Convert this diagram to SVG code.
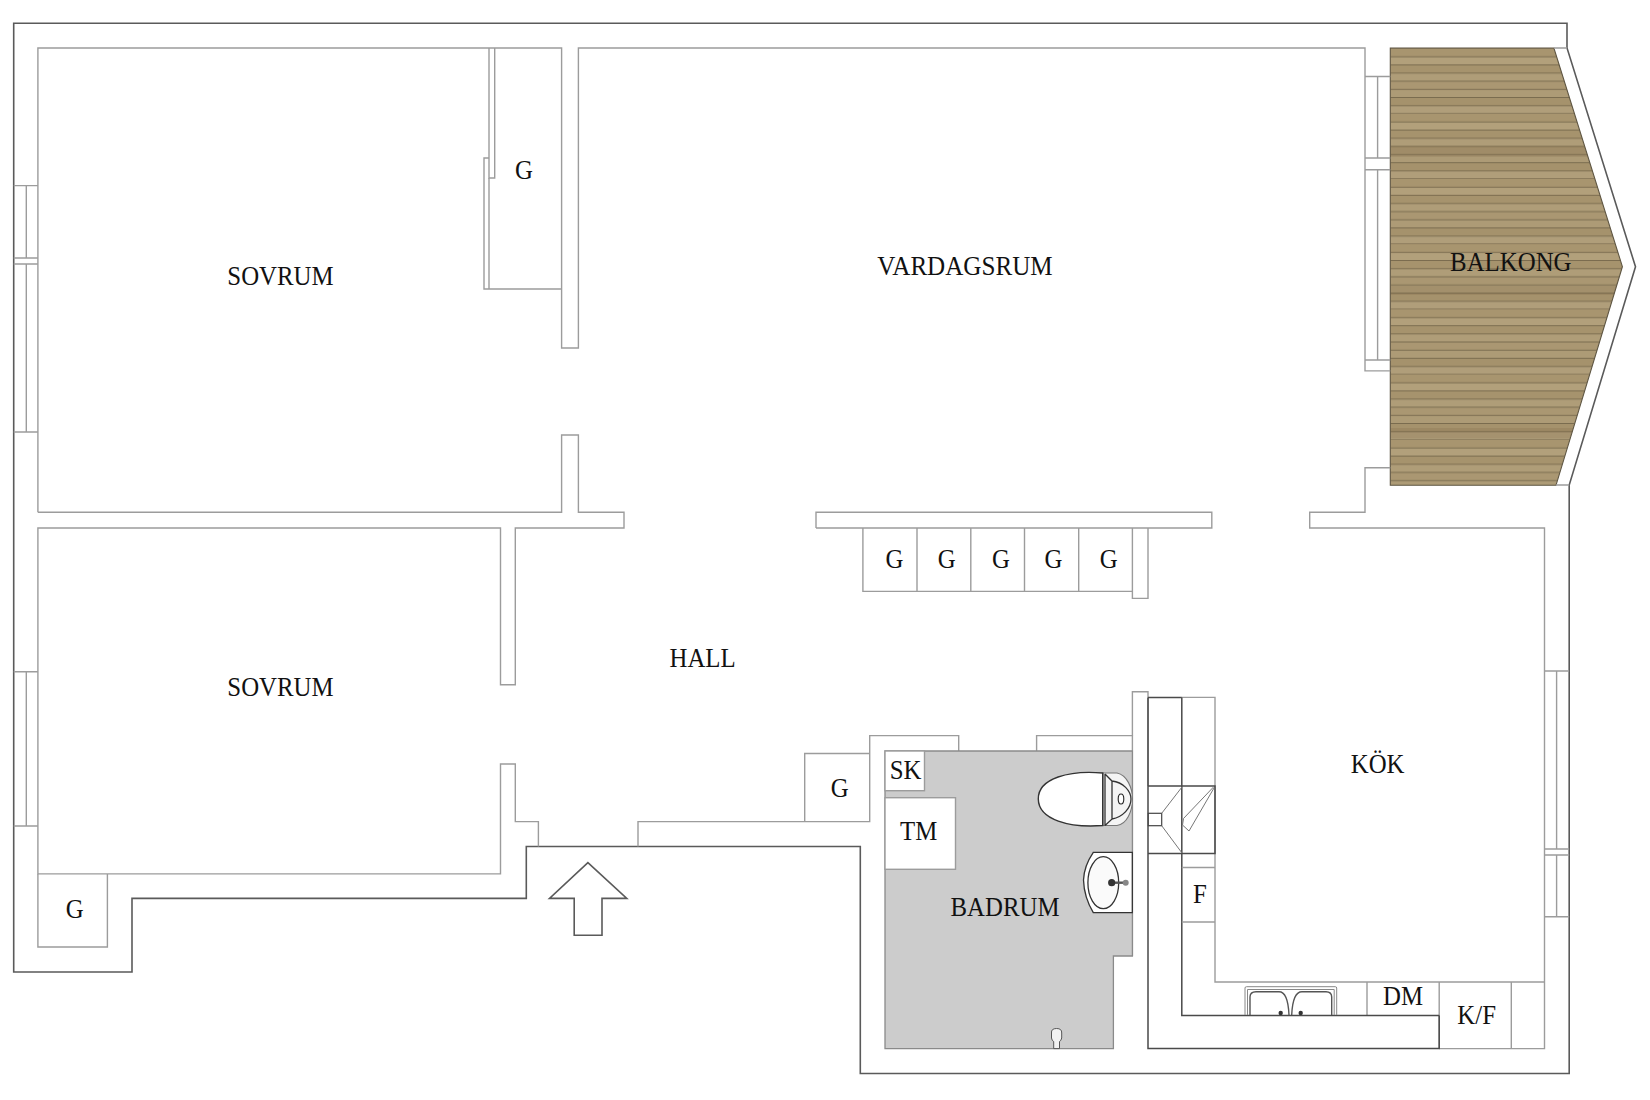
<svg xmlns="http://www.w3.org/2000/svg" width="1650" height="1100" viewBox="0 0 1650 1100">
<style>
.o{fill:none;stroke:#5a5a5a;stroke-width:1.6}
.w{fill:none;stroke:#9c9c9c;stroke-width:1.4}
.f{fill:#fff;stroke:#9c9c9c;stroke-width:1.4}
.d{fill:none;stroke:#4a4a4a;stroke-width:1.5}
.t{font-family:"Liberation Serif","Times New Roman",serif;font-size:27px;fill:#111;text-anchor:middle}
</style>
<defs>
<pattern id="wood" patternUnits="userSpaceOnUse" x="0" y="48.6" width="400" height="65.2">
<rect width="400" height="65.2" fill="#ab9973"/>
<rect y="0" width="400" height="8.2" fill="#a8956f"/>
<rect y="8.2" width="400" height="8.1" fill="#b2a07b"/>
<rect y="16.3" width="400" height="8.2" fill="#a6936d"/>
<rect y="24.5" width="400" height="8.1" fill="#af9d78"/>
<rect y="32.6" width="400" height="8.2" fill="#aa9772"/>
<rect y="40.8" width="400" height="8.1" fill="#ad9b76"/>
<rect y="48.9" width="400" height="8.2" fill="#a5926c"/>
<rect y="57.1" width="400" height="8.1" fill="#b09e7a"/>
<path d="M0 8.2H400M0 16.3H400M0 24.5H400M0 32.6H400M0 40.8H400M0 48.9H400M0 57.1H400M0 65H400" stroke="#76674b" stroke-width=".9"/>
</pattern>
<clipPath id="balkong-yta"><polygon points="1390.3,48 1553.9,48 1622.4,266.7 1556,485.3 1390.3,485.3"/></clipPath>
</defs>
<rect width="1650" height="1100" fill="#fff"/>

<g id="balkong">
<polygon points="1390.3,48 1553.9,48 1622.4,266.7 1556,485.3 1390.3,485.3" fill="url(#wood)"/>
<g clip-path="url(#balkong-yta)" fill="#6e5a35" fill-opacity=".16">
<rect x="1390" y="146" width="240" height="11"/>
<rect x="1390" y="286" width="240" height="9"/>
<rect x="1390" y="428" width="240" height="10"/>
</g>
<polygon points="1390.3,48 1553.9,48 1622.4,266.7 1556,485.3 1390.3,485.3" fill="none" stroke="#5e5542" stroke-width="1.1"/>
<text class="t" transform="translate(1510.8 270.5) scale(.92 1)">BALKONG</text>
</g>

<g id="walls">
<path class="o" d="M13.7,23.2H1567V48L1635.5,266.7L1569.2,485V1073.5H860.3V846.5H526.3V898.4H132V972H13.7Z"/>
<path class="w" d="M37.9,512.3V48H561.6V348H578.4V48H1365V370.9H1390.3"/>
<path class="w" d="M37.9,512.3H561.6V435H578.4V512.3H624V528H515.3V684.7H500.5V528H37.9V873.9H500.5V764H515.3V821.6H538.4V846.5"/>
<path class="w" d="M1390.3,467.7H1365V512.3H1309.7V528H1544.5V1048.6H1439.2"/>
<path class="w" d="M816,528V512.3H1211.8V528H816"/>
<path class="w" d="M638,846.5V821.6H869.7V735.6H958.7V751M1036.6,751V735.6H1132.4V691.8H1148V697.4"/>
<path class="w" d="M1553.9,48H1567M1556,485H1569.2"/>
<path class="w" d="M1132.4,528V598.4H1148V528"/>
<path class="w" d="M1132.4,735.6V956M1148,697.4V786"/>
</g>

<g id="windows">
<path class="w" d="M13.7,185.6H37.9M13.7,258H37.9M13.7,264H37.9M13.7,432H37.9M26.3,185.6V258M26.3,264V432"/>
<path class="w" d="M13.7,671.8H37.9M13.7,826H37.9M26.3,671.8V826"/>
<path class="w" d="M1365,76.5H1390.3M1365,158H1390.3M1365,169.8H1390.3M1365,360H1390.3M1377.6,76.5V158M1377.6,169.8V360"/>
<path class="w" d="M1544.5,671H1569.2M1544.5,849H1569.2M1544.5,855H1569.2M1544.5,916.7H1569.2M1556.6,671V849M1556.6,855V916.7"/>
</g>

<g id="arrow">
<polygon class="o" points="587.9,862.6 626.8,898.4 602,898.4 602,935.3 574.2,935.3 574.2,898.4 549.5,898.4" fill="#fff"/>
</g>

<g id="sovrum-1">
<text class="t" transform="translate(280.5 285) scale(.92 1)">SOVRUM</text>
</g>
<g id="garderob-1">
<path class="w" d="M489,48V178H494.7V48"/>
<path class="w" d="M489,158H484V289H561.6M489,178V289"/>
<text class="t" transform="translate(524 179.3) scale(.92 1)">G</text>
</g>
<g id="sovrum-2">
<text class="t" transform="translate(280.5 696.3) scale(.92 1)">SOVRUM</text>
</g>
<g id="garderob-2">
<path class="w" d="M37.9,873.9V947H107.4V873.9"/>
<text class="t" transform="translate(74.7 917.7) scale(.92 1)">G</text>
</g>
<g id="vardagsrum">
<text class="t" transform="translate(965 274.7) scale(.93 1)">VARDAGSRUM</text>
</g>
<g id="hall">
<text class="t" transform="translate(702.6 666.8) scale(.92 1)">HALL</text>
</g>
<g id="garderober">
<path class="w" d="M862.9,528V591.4H1132.4M917,528V591.4M970.8,528V591.4M1024.5,528V591.4M1078.7,528V591.4"/>
<text class="t" transform="translate(894.5 568) scale(.92 1)">G</text>
<text class="t" transform="translate(946.6 568) scale(.92 1)">G</text>
<text class="t" transform="translate(1001 568) scale(.92 1)">G</text>
<text class="t" transform="translate(1053.4 568) scale(.92 1)">G</text>
<text class="t" transform="translate(1108.7 568) scale(.92 1)">G</text>
</g>
<g id="garderob-3">
<path class="w" d="M869.7,753.5H804.7V821.6"/>
<text class="t" transform="translate(839.7 797.4) scale(.92 1)">G</text>
</g>

<g id="badrum">
<polygon points="885,751 1132.4,751 1132.4,956 1113.4,956 1113.4,1048.6 885,1048.6" fill="#cccccc" stroke="#8a8a8a" stroke-width="1.3"/>
<rect class="f" x="885" y="751" width="39.5" height="39.7"/>
<text class="t" transform="translate(905.5 779) scale(.92 1)">SK</text>
<rect class="f" x="885" y="797.7" width="70.5" height="71.6"/>
<text class="t" transform="translate(918.7 840) scale(.92 1)">TM</text>
<text class="t" transform="translate(1005 916.3) scale(.92 1)">BADRUM</text>
<g id="toalett">
<path d="M1103,773H1117C1127,775 1132.5,788 1132.5,799C1132.5,811 1127,824 1117,825.5H1103Z" fill="#f4f4f4" stroke="#777" stroke-width="1.1"/>
<path d="M1102.7,773C1070,770 1038,778 1038.3,799C1038.5,820 1070,828 1102.7,825.5Z" fill="#fff" stroke="#333" stroke-width="1.4"/>
<path d="M1105,774L1112,781C1123,782 1131,791 1131,799C1131,808 1123,817 1112,819L1105,825.5M1112,781V819M1105,774V825.5" fill="none" stroke="#333" stroke-width="1.3"/>
<ellipse cx="1121" cy="799" rx="2.8" ry="5" fill="#fff" stroke="#222" stroke-width="1.1"/>
</g>
<g id="handfat">
<path d="M1132.3,852.3H1093.3Q1084,866 1083.5,880Q1084,897 1093.3,912.7H1132.3Z" fill="#fff" stroke="#333" stroke-width="1.3"/>
<ellipse cx="1103.3" cy="882.7" rx="15.4" ry="26" fill="#fafafa" stroke="#333" stroke-width="1.3"/>
<path d="M1111.7,882.7H1125.7" stroke="#555" stroke-width="2.4"/>
<circle cx="1111.7" cy="882.7" r="3.6" fill="#333"/>
<circle cx="1125.7" cy="882.7" r="3" fill="#888"/>
</g>
<g id="golvbrunn">
<path d="M1051.5,1033Q1051,1028.5 1056.6,1028.5Q1062,1028.5 1061.7,1033V1038Q1061,1041 1059.5,1041.5V1048.6H1053.7V1041.5Q1052,1041 1051.5,1038Z" fill="#f2f2f2" stroke="#555" stroke-width="1"/>
</g>
</g>

<g id="kok">
<path class="w" d="M1181.8,697.4H1215V982H1544.5M1367,982V1015.6M1439.2,982V1048.6M1511.3,982V1048.6"/>
<path class="d" d="M1148,697.4H1181.8M1148,697.4V1048.6H1439.2V1015.6M1181.8,697.4V1015.6H1439.2"/>
<path class="w" d="M1181.8,867.5H1215M1181.8,922H1215"/>
<g id="skorsten">
<path class="d" d="M1148,786H1215V853.5H1148"/>
<rect x="1148.3" y="813.3" width="13.4" height="12.4" fill="#fff" stroke="#444" stroke-width="1.2"/>
<path d="M1182,787L1161.7,813.3M1161.7,825.7L1182,853M1213.5,787L1183.5,818.5L1182.5,825L1189,831L1214,788" fill="none" stroke="#777" stroke-width="1"/>
</g>
<g id="diskbank">
<path d="M1245,1015V988Q1245,986.7 1246.5,986.7H1335.2Q1336.7,986.7 1336.7,988V1015M1247.5,1015V989.5H1334.2V1015" fill="none" stroke="#888" stroke-width="1"/>
<path d="M1250,1015V997Q1250,991.7 1256,991.7H1279Q1288,991.7 1289,1015M1291.7,1015Q1292.7,991.7 1302,991.7H1326Q1331.7,991.7 1331.7,997V1015" fill="none" stroke="#555" stroke-width="1.4"/>
<circle cx="1280.7" cy="1013" r="2.2" fill="#333"/>
<circle cx="1300.7" cy="1013" r="2.2" fill="#333"/>
</g>
<text class="t" transform="translate(1377.6 772.8) scale(.92 1)">KÖK</text>
<text class="t" transform="translate(1200 902.7) scale(.92 1)">F</text>
<text class="t" transform="translate(1403 1005) scale(.92 1)">DM</text>
<text class="t" transform="translate(1476.7 1024) scale(.92 1)">K/F</text>
</g>
</svg>
